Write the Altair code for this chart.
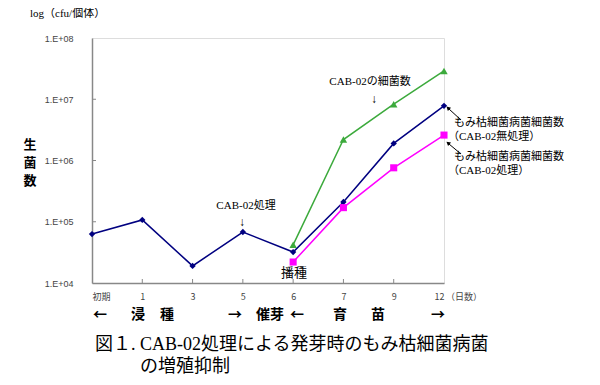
import altair as alt
import pandas as pd

x_labels = ["初期", "1", "3", "5", "6", "7", "9", "12"]

blue_x = [0, 1, 2, 3, 4, 5, 6, 7]
blue_y = [6.3e4, 1.07e5, 1.9e4, 6.8e4, 3.2e4, 2.1e5, 1.9e6, 7.8e6]

green_x = [4, 5, 6, 7]
green_y = [4.2e4, 2.2e6, 8.3e6, 2.9e7]

pink_x = [4, 5, 6, 7]
pink_y = [2.2e4, 1.7e5, 7.6e5, 2.6e6]

y_ticks = [1e4, 1e5, 1e6, 1e7, 1e8]

W, H = 352, 245
SERIF = "Liberation Serif, Noto Sans CJK JP"
SANS = "Noto Sans CJK JP"

df = pd.concat([
    pd.DataFrame({"x": blue_x, "y": blue_y, "s": "blue"}),
    pd.DataFrame({"x": green_x, "y": green_y, "s": "green"}),
    pd.DataFrame({"x": pink_x, "y": pink_y, "s": "pink"}),
])

label_expr = "[" + ",".join("'%s'" % l for l in x_labels) + "][datum.value]"

xs = alt.X("x:Q", scale=alt.Scale(domain=[0, 7], nice=False),
           axis=alt.Axis(values=list(range(8)), labelExpr=label_expr, title=None, grid=False,
                         tickSize=0, labelPadding=9, labelFontSize=9, labelFont=SANS,
                         labelColor="#444", domainColor="#888", domainWidth=1.5))
ys = alt.Y("y:Q", scale=alt.Scale(type="log", domain=[1e4, 1e8], nice=False),
           axis=alt.Axis(values=y_ticks, labelExpr="'1.E+0' + round(log(datum.value)/LN10)",
                         title=None, grid=False, tickSize=0, labelPadding=19, labelFontSize=9,
                         labelFont="Liberation Sans", labelColor="#444",
                         domainColor="#888", domainWidth=1.5))

colors = alt.Scale(domain=["blue", "green", "pink"], range=["#000080", "#3CAA3C", "#FF00FF"])

base = alt.Chart(df)
lines = base.mark_line(strokeWidth=1.5).encode(
    x=xs, y=ys, color=alt.Color("s:N", scale=colors, legend=None), detail="s:N")

pts_blue = alt.Chart(df[df.s == "blue"]).mark_point(shape="diamond", filled=True, size=40, opacity=1, color="#000080").encode(x="x:Q", y="y:Q")
pts_green = alt.Chart(df[df.s == "green"]).mark_point(shape="triangle-up", filled=True, size=55, opacity=1, color="#3CAA3C").encode(x="x:Q", y="y:Q")
pts_pink = alt.Chart(df[df.s == "pink"]).mark_point(shape="square", filled=True, size=50, opacity=1, color="#FF00FF").encode(x="x:Q", y="y:Q")

# inward ticks
ytick_df = pd.DataFrame({"y": y_ticks[1:-1]})
yticks = alt.Chart(ytick_df).mark_rule(color="#888", strokeWidth=1).encode(
    y="y:Q", x=alt.value(0), x2=alt.value(4))
xtick_df = pd.DataFrame({"x": list(range(1, 7))})
xticks = alt.Chart(xtick_df).mark_rule(color="#888", strokeWidth=1).encode(
    x="x:Q", y=alt.value(H), y2=alt.value(H - 4))


def txt(s, x, y, size=11, font=SERIF, align="center", weight="normal", color="black"):
    return alt.Chart(pd.DataFrame({"t": [s]})).mark_text(
        fontSize=size, font=font, align=align, baseline="middle", fontWeight=weight, color=color
    ).encode(text="t:N", x=alt.value(x), y=alt.value(y))


def rule(x1, y1, x2, y2):
    return alt.Chart(pd.DataFrame({"a": [0]})).mark_rule(color="black", strokeWidth=1).encode(
        x=alt.value(x1), y=alt.value(y1), x2=alt.value(x2), y2=alt.value(y2))


def head(x, y, angle):
    return alt.Chart(pd.DataFrame({"a": [0]})).mark_point(
        shape="triangle-up", filled=True, size=22, color="black", opacity=1, angle=angle
    ).encode(x=alt.value(x), y=alt.value(y))


texts = [
    txt("log（cfu/個体）", -62, -24, 11, align="left"),
    txt("生", -62, 107, 13, SANS, weight="bold"),
    txt("菌", -62, 125, 13, SANS, weight="bold"),
    txt("数", -62, 143, 13, SANS, weight="bold"),
    txt("（日数）", 354, 259, 9, SANS, align="left", color="#444"),
    txt("←", 8, 277, 14, SANS, weight="bold"),
    txt("浸", 46, 277, 14, SANS, weight="bold"),
    txt("種", 75, 277, 14, SANS, weight="bold"),
    txt("→", 143, 277, 14, SANS, weight="bold"),
    txt("催芽", 178, 277, 14, SANS, weight="bold"),
    txt("←", 205, 277, 14, SANS, weight="bold"),
    txt("育", 248, 277, 14, SANS, weight="bold"),
    txt("苗", 286, 277, 14, SANS, weight="bold"),
    txt("→", 346, 277, 14, SANS, weight="bold"),
    txt("図１. CAB-02処理による発芽時のもみ枯細菌病菌", 3, 307, 18, SERIF, align="left"),
    txt("の増殖抑制", 48, 329, 18, SERIF, align="left"),
    txt("CAB-02の細菌数", 278, 44, 11),
    txt("↓", 282, 61, 12),
    txt("CAB-02処理", 154, 168, 11),
    txt("↓", 150, 184, 12),
    txt("播種", 202, 235, 13, SANS),
    txt("もみ枯細菌病菌細菌数", 362, 85, 11, align="left"),
    txt("（CAB-02無処理）", 356, 99, 11, align="left"),
    txt("もみ枯細菌病菌細菌数", 362, 119, 11, align="left"),
    txt("（CAB-02処理）", 356, 133, 11, align="left"),
    rule(369, 82, 357, 71), head(356, 70, 313),
    rule(369, 116, 357, 106), head(356, 105, 310),
]

chart = alt.layer(lines, pts_blue, pts_green, pts_pink, yticks, xticks, *texts).properties(
    width=W, height=H,
    padding={"left": 84, "top": 30, "right": 148, "bottom": 94},
    autosize=alt.AutoSizeParams(type="none"),
).configure_view(stroke="#888", strokeWidth=1.5).configure(background="white")

chart.save("out.html", embed_options={"renderer": "svg", "actions": False})
